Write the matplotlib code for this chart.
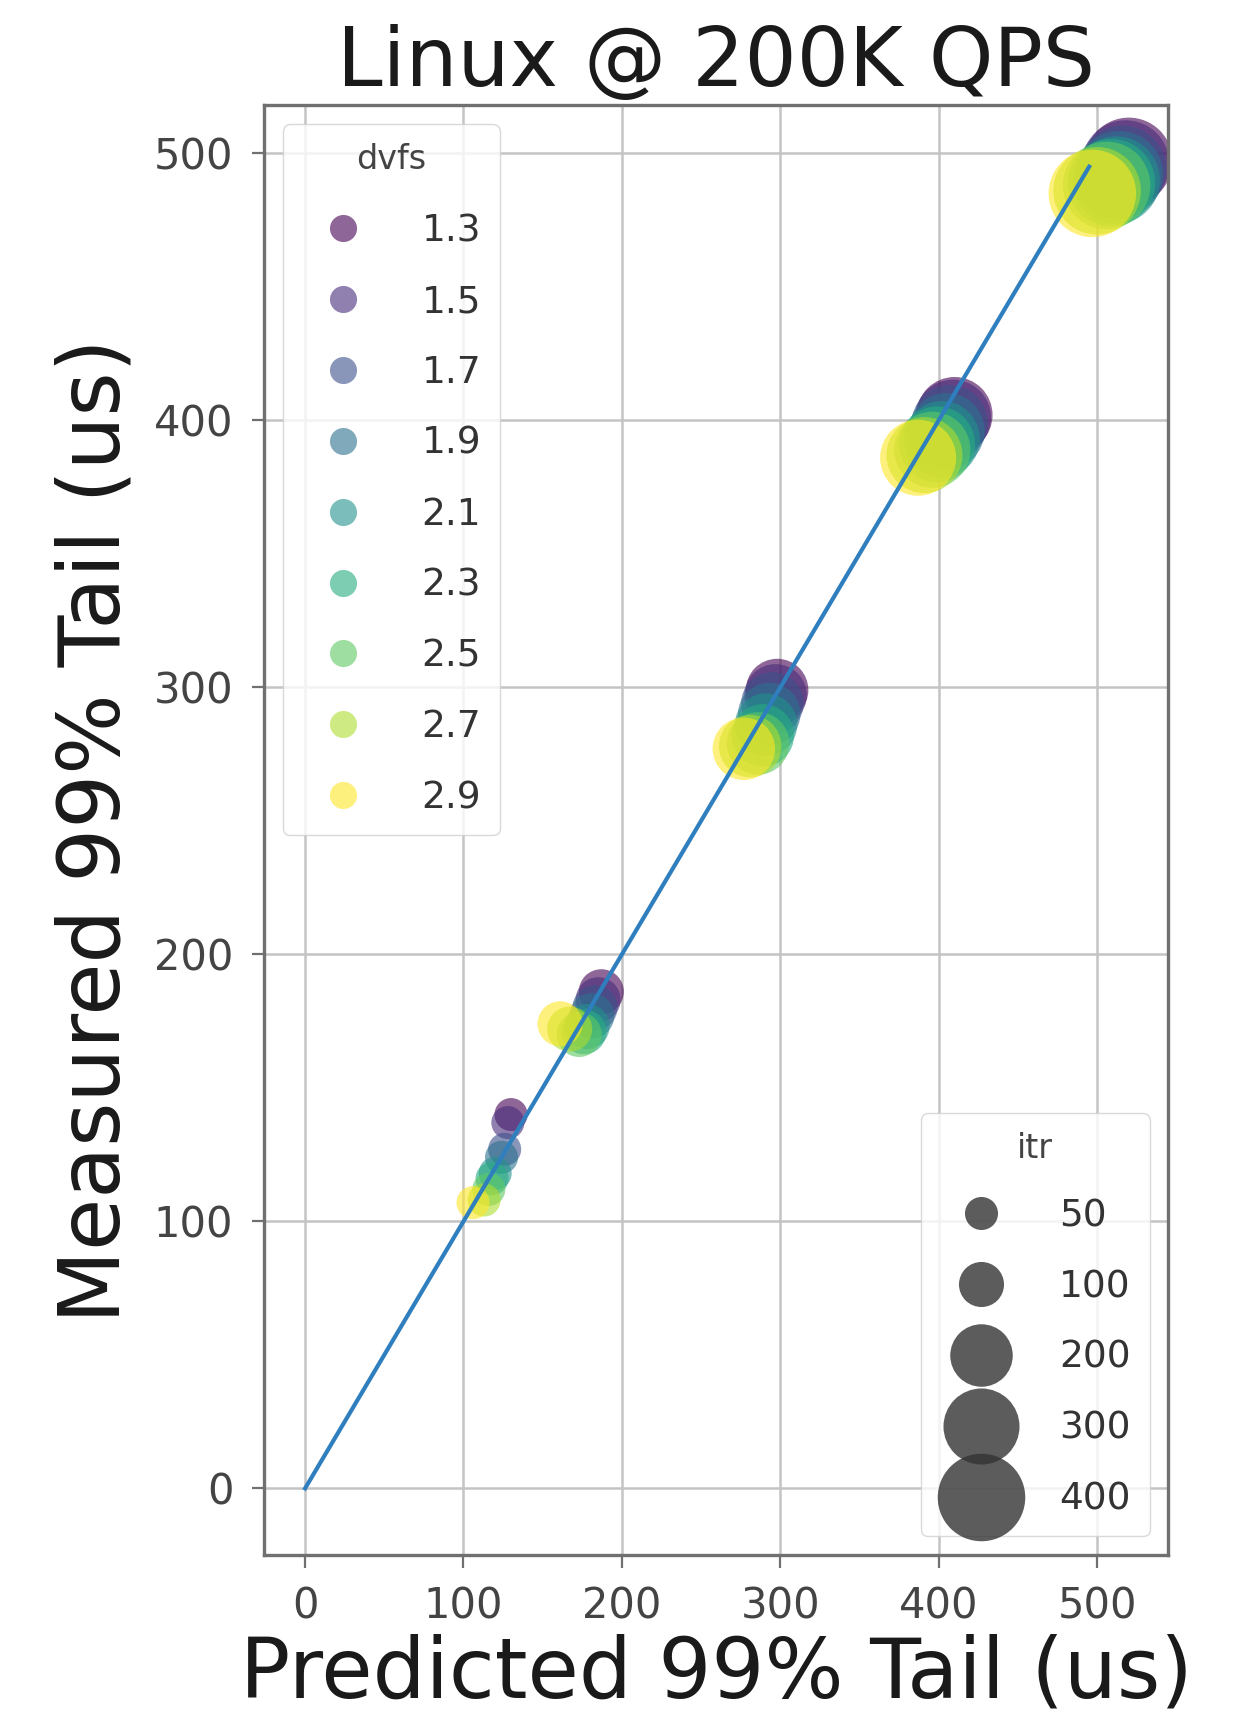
import numpy as np
import matplotlib
matplotlib.use("Agg")
import matplotlib.pyplot as plt
from matplotlib.lines import Line2D
from matplotlib import colors

# ---------------- data ----------------
dvfs_levels = [1.3, 1.5, 1.7, 1.9, 2.1, 2.3, 2.5, 2.7, 2.9]
itr_levels = [50, 100, 200, 300, 400]

# predicted / measured 99% tail per dvfs level (order of dvfs_levels), one list per itr value
pred_50 = [130, 128, 126, 124, 120, 118, 116, 113, 106]
meas_50 = [140, 137, 127, 124, 118, 116, 112, 108, 107]
pred_100 = [187, 185, 183, 181, 178, 176, 173, 167, 161]
meas_100 = [186, 183, 180, 177, 173, 171, 170, 172, 174]
pred_200 = [298, 297, 295, 293, 291, 289, 286, 281, 277]
meas_200 = [299, 297, 294, 290, 286, 282, 279, 278, 277]
pred_300 = [410, 409, 407, 405, 402, 399, 396, 391, 387]
meas_300 = [402, 401, 399, 396, 393, 391, 389, 387, 386]
pred_400 = [520, 518, 516, 514, 512, 509, 506, 500, 497]
meas_400 = [497, 496, 494, 492, 490, 489, 488, 486, 485]

diag = [0, 495]
xticks = [0, 100, 200, 300, 400, 500]
yticks = [0, 100, 200, 300, 400, 500]

# ---------------- assemble ----------------
preds = [pred_50, pred_100, pred_200, pred_300, pred_400]
meass = [meas_50, meas_100, meas_200, meas_300, meas_400]
xs, ys, hs, ss = [], [], [], []
for j, d in enumerate(dvfs_levels):
    for i, it in enumerate(itr_levels):
        xs.append(preds[i][j]); ys.append(meass[i][j]); hs.append(d); ss.append(it)
xs = np.array(xs); ys = np.array(ys); hs = np.array(hs); ss = np.array(ss)

cmap = matplotlib.colormaps["viridis"]
norm = colors.Normalize(min(dvfs_levels), max(dvfs_levels))
s_lo, s_hi = 566.0, 3970.0
def size_of(v):
    return s_lo + (s_hi - s_lo) * (v - min(itr_levels)) / (max(itr_levels) - min(itr_levels))

ALPHA = 0.6

plt.rcParams['font.family'] = ['DejaVu Sans']
fig = plt.figure(figsize=(12.39, 17.26), dpi=100)
ax = fig.add_axes([0.213, 0.099, 0.730, 0.840])

ax.grid(True, color='#c4c4c4', linewidth=1.8, zorder=0)
ax.set_axisbelow(True)

ax.scatter(xs, ys, c=[cmap(norm(h)) for h in hs], s=[size_of(v) for v in ss],
           alpha=ALPHA, linewidths=0, zorder=2)
ax.plot(diag, diag, color='#2f7fbf', linewidth=3.0, zorder=3)

ax.set_xlim(-26, 545)
ax.set_ylim(-25, 518)
ax.set_xticks(xticks)
ax.set_yticks(yticks)
ax.tick_params(axis='both', labelsize=30, labelcolor='#444444', color='#707070',
               length=9, width=1.6, pad=13)
for sp in ax.spines.values():
    sp.set_color('#707070')
    sp.set_linewidth(2.4)

ax.set_title("Linux @ 200K QPS", fontsize=59, pad=14, color='#1a1a1a')
ax.set_xlabel("Predicted 99% Tail (us)", fontsize=60, labelpad=4, color='#1a1a1a')
ax.set_ylabel("Measured 99% Tail (us)", fontsize=61, labelpad=12, color='#1a1a1a')

common = dict(fontsize=27, title_fontsize=24, labelspacing=0.93,
              handlelength=2.2, handletextpad=1.0, borderpad=0.5,
              borderaxespad=0.5, framealpha=0.8, edgecolor='#d0d0d0',
              labelcolor='#333333')

# dvfs legend
h1 = [Line2D([], [], linestyle='none', marker='o', markersize=19.5,
             markerfacecolor=cmap(norm(d)), markeredgewidth=0, alpha=ALPHA)
      for d in dvfs_levels]
leg1 = ax.legend(h1, [f"{d}" for d in dvfs_levels], title="dvfs", loc='upper left', **common)
leg1.get_title().set_color('#444444')
leg1._legend_box.sep = 27
ax.add_artist(leg1)

# itr legend
h2 = [Line2D([], [], linestyle='none', marker='o', markersize=np.sqrt(size_of(v)),
             markerfacecolor='#333333', markeredgewidth=0, alpha=0.8)
      for v in itr_levels]
leg2 = ax.legend(h2, [f"{v}" for v in itr_levels], title="itr", loc='lower right', **common)
leg2.get_title().set_color('#444444')
leg2._legend_box.sep = 24

fig.savefig("out.png", dpi=100, facecolor='white')
